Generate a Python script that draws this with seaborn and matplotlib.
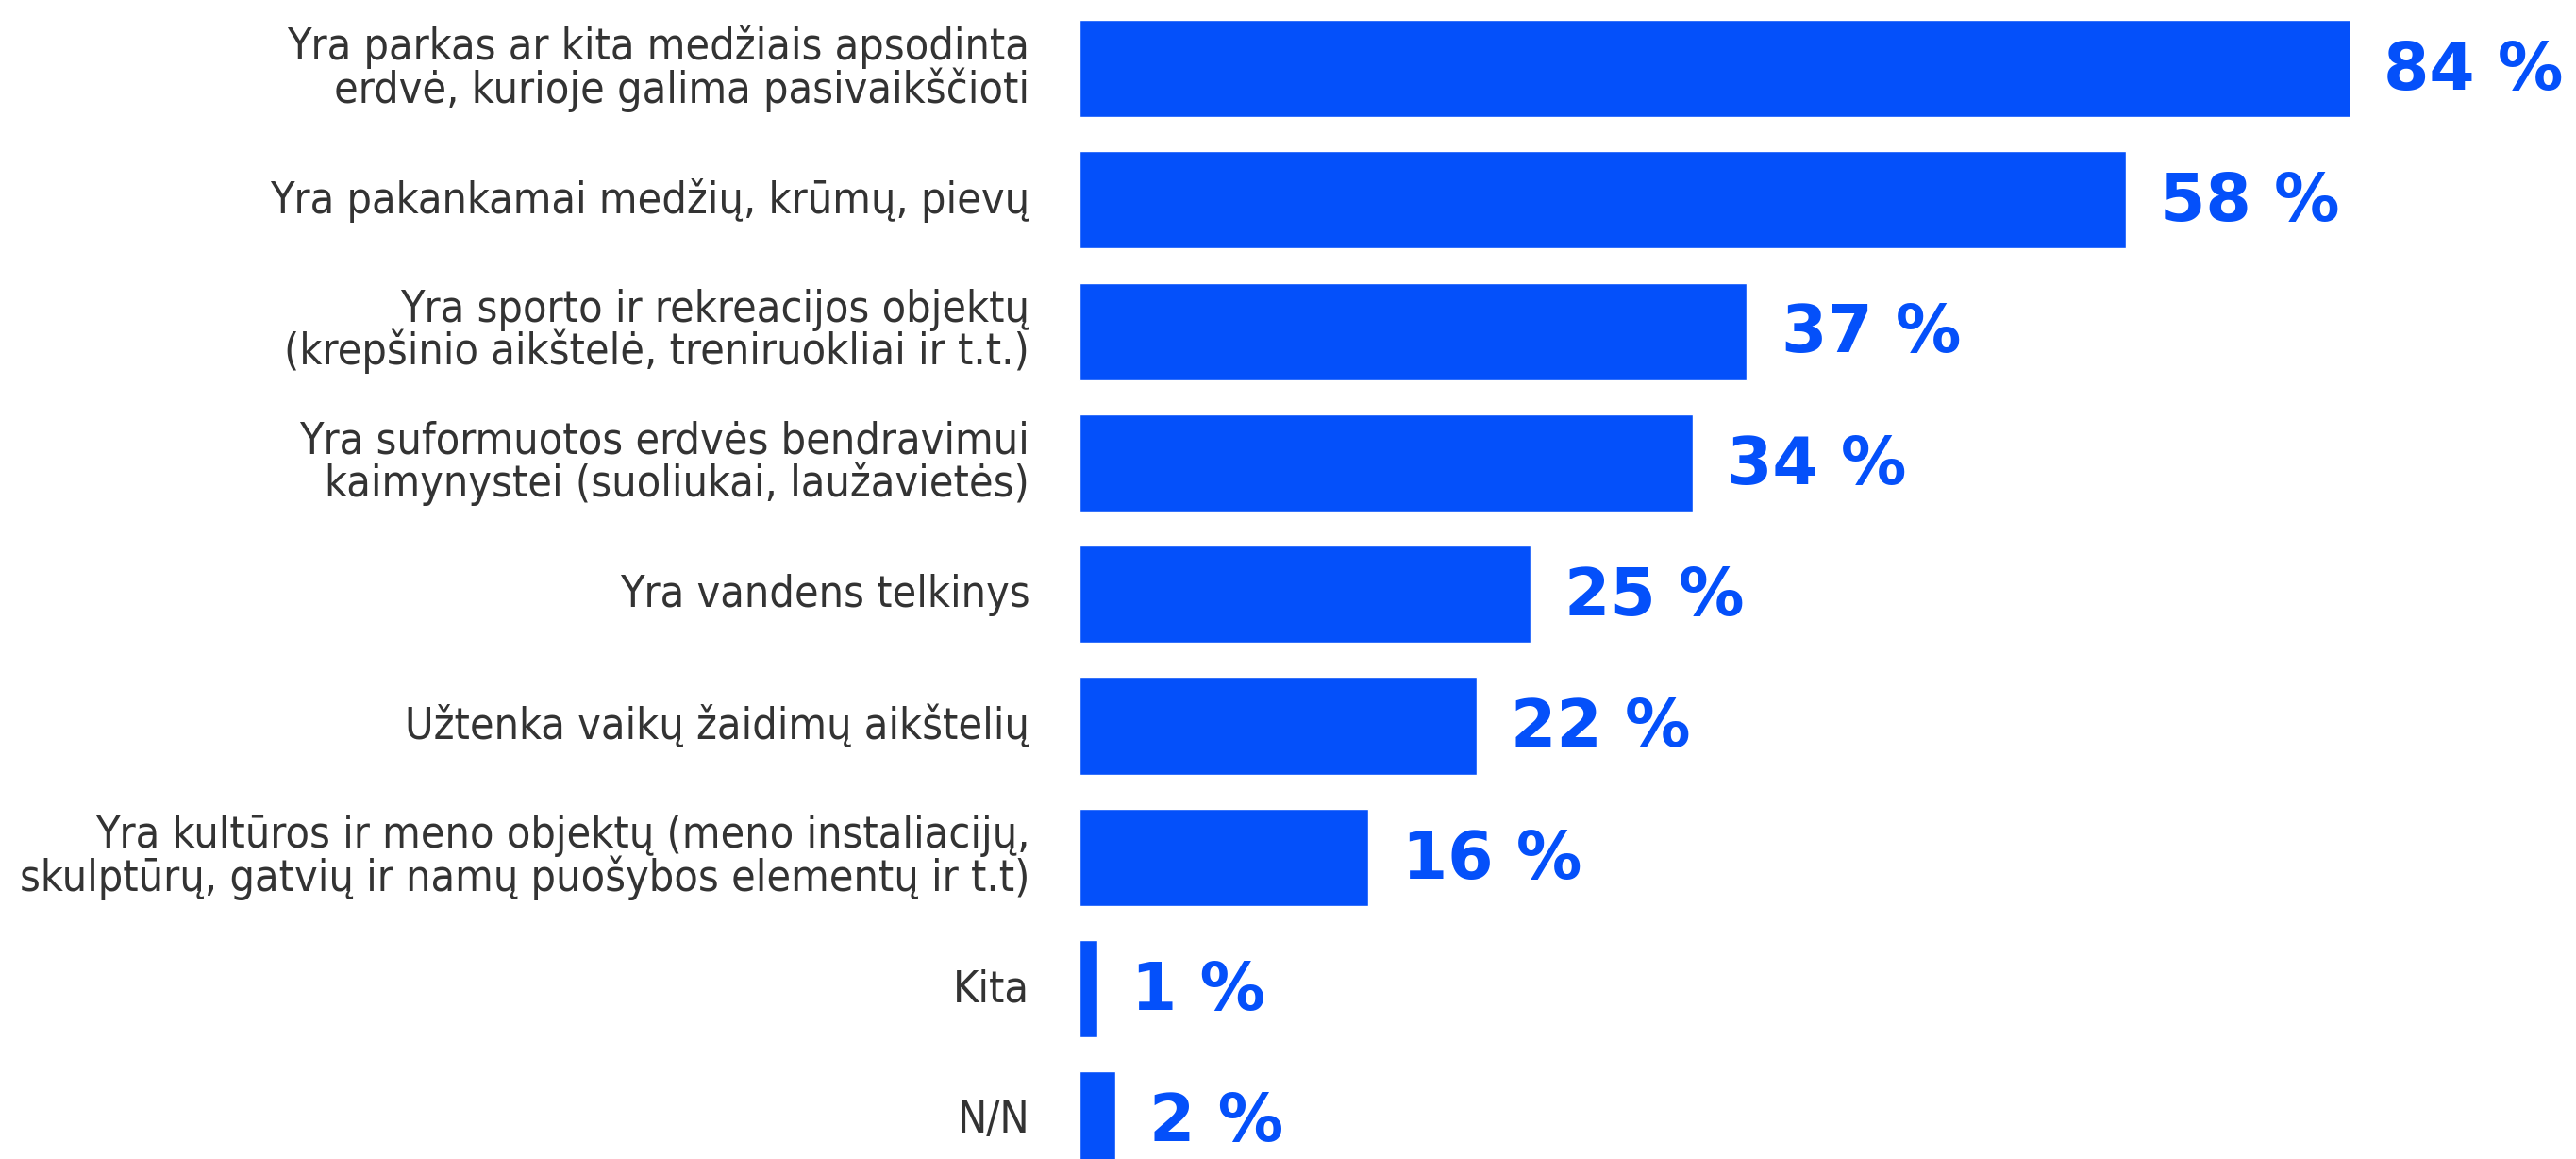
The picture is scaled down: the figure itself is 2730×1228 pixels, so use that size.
import matplotlib
matplotlib.use("Agg")
import matplotlib.pyplot as plt
from matplotlib import font_manager
import seaborn as sns

categories = [
    "Yra parkas ar kita medžiais apsodinta\nerdvė, kurioje galima pasivaikščioti",
    "Yra pakankamai medžių, krūmų, pievų",
    "Yra sporto ir rekreacijos objektų\n(krepšinio aikštelė, treniruokliai ir t.t.)",
    "Yra suformuotos erdvės bendravimui\nkaimynystei (suoliukai, laužavietės)",
    "Yra vandens telkinys",
    "Užtenka vaikų žaidimų aikštelių",
    "Yra kultūros ir meno objektų (meno instaliacijų,\nskulptūrų, gatvių ir namų puošybos elementų ir t.t)",
    "Kita",
    "N/N",
]
values = [84, 58, 37, 34, 25, 22, 16, 1, 2]
value_labels = ["84 %", "58 %", "37 %", "34 %", "25 %", "22 %", "16 %", "1 %", "2 %"]

BLUE = "#0450FA"
TEXT = "#333333"

sns.set_theme(style="white")
names = {f.name for f in font_manager.fontManager.ttflist}
if "Liberation Sans Narrow" in names:
    label_font = dict(family=["Liberation Sans Narrow", "DejaVu Sans"], size=37)
else:
    label_font = dict(family=["DejaVu Sans"], stretch="condensed", size=33.5)
plt.rcParams["font.family"] = ["DejaVu Sans"]

W, H = 2730, 1228
fig = plt.figure(figsize=(W / 100, H / 100), dpi=100)
ax = fig.add_axes([1144 / W, 0, 1346 / W, 1])

sns.barplot(x=values, y=categories, orient="h", color=BLUE, saturation=1,
            width=0.74, ax=ax)

xmax = 70.4
ax.set_xlim(0, xmax)
ax.set_ylim(8.295, -0.520)

for s in ax.spines.values():
    s.set_visible(False)
ax.set_xticks([])
ax.set_xlabel("")
ax.set_ylabel("")
ax.tick_params(axis="y", length=0, pad=38)
for lab in ax.get_yticklabels():
    lab.set_fontsize(label_font["size"])
    lab.set_color(TEXT)
    lab.set_linespacing(0.95)
    lab.set_fontfamily(label_font["family"])
    if "stretch" in label_font:
        lab.set_fontstretch(label_font["stretch"])
    lab.set_y(lab.get_position()[1])
# nudge tick labels slightly upward
import matplotlib.transforms as mtrans
offset = mtrans.ScaledTranslation(0, 4 / 100, fig.dpi_scale_trans)
for t in ax.yaxis.get_major_ticks():
    t.label1.set_transform(t.label1.get_transform() + offset)

for patch, txt in zip(ax.patches, value_labels):
    x_end = min(patch.get_width(), xmax)
    yc = patch.get_y() + patch.get_height() / 2
    ax.annotate(txt, xy=(x_end, yc), xytext=(26, -2), textcoords="offset points",
                ha="left", va="center", fontsize=50, fontweight="bold",
                color=BLUE, annotation_clip=False, clip_on=False)

fig.savefig("out.png", dpi=100, facecolor="white")
